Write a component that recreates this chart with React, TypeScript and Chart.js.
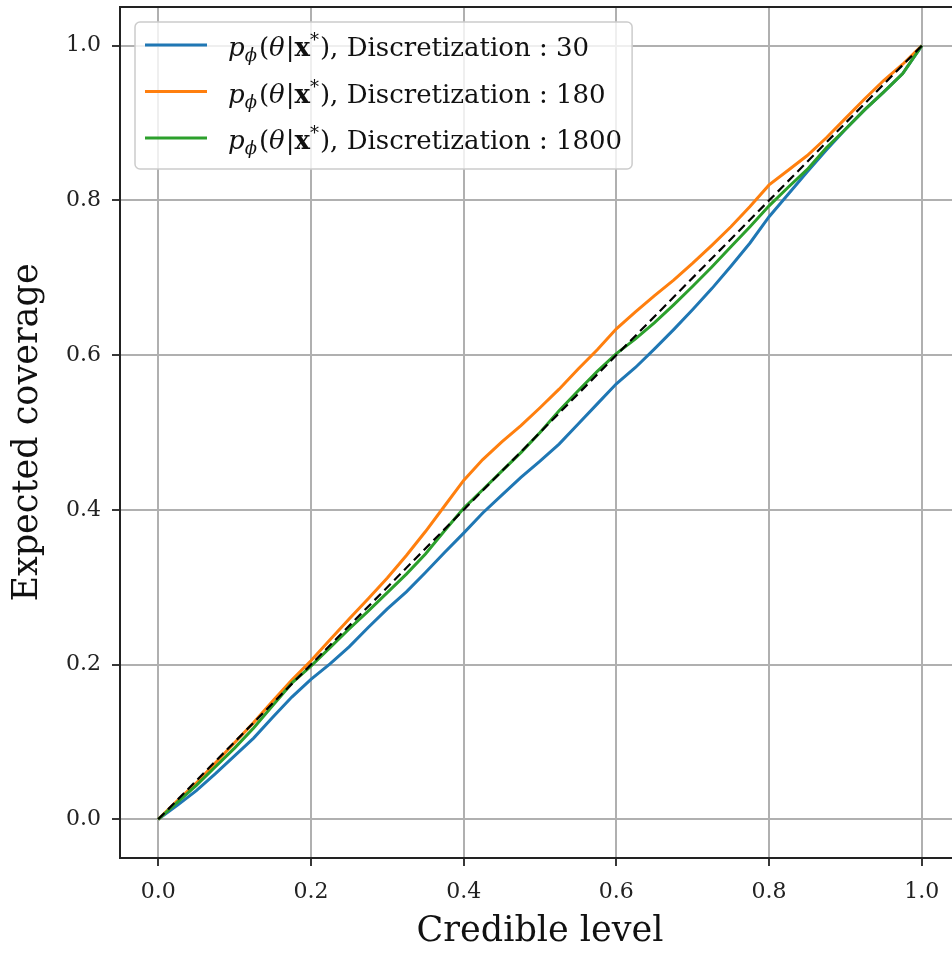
import React, { useEffect, useRef } from "react";
import { Chart, registerables } from "chart.js";

Chart.register(...registerables);

// ---- data ----
const credibleLevels = [
  0, 0.025, 0.05, 0.075, 0.1, 0.125, 0.15, 0.175, 0.2, 0.225, 0.25, 0.275, 0.3, 0.325,
  0.35, 0.375, 0.4, 0.425, 0.45, 0.475, 0.5, 0.525, 0.55, 0.575, 0.6, 0.625, 0.65,
  0.675, 0.7, 0.725, 0.75, 0.775, 0.8, 0.825, 0.85, 0.875, 0.9, 0.925, 0.95, 0.975, 1,
];

const coverage30 = [
  0, 0.018, 0.037, 0.059, 0.082, 0.105, 0.132, 0.158, 0.181, 0.201, 0.223, 0.248, 0.272,
  0.294, 0.319, 0.345, 0.37, 0.396, 0.419, 0.442, 0.463, 0.485, 0.511, 0.537, 0.563,
  0.584, 0.608, 0.633, 0.659, 0.686, 0.715, 0.745, 0.779, 0.808, 0.837, 0.865, 0.892,
  0.917, 0.94, 0.964, 1.0,
];

const coverage180 = [
  0, 0.024, 0.047, 0.073, 0.099, 0.125, 0.153, 0.18, 0.205, 0.232, 0.259, 0.285, 0.312,
  0.341, 0.372, 0.405, 0.438, 0.465, 0.488, 0.509, 0.532, 0.556, 0.582, 0.607, 0.634,
  0.656, 0.677, 0.697, 0.719, 0.742, 0.766, 0.792, 0.82, 0.839, 0.858, 0.881, 0.906,
  0.931, 0.955, 0.976, 1.0,
];

const coverage1800 = [
  0, 0.022, 0.044, 0.068, 0.092, 0.118, 0.147, 0.176, 0.198, 0.222, 0.246, 0.269, 0.293,
  0.317, 0.343, 0.373, 0.402, 0.426, 0.45, 0.474, 0.5, 0.528, 0.554, 0.579, 0.602, 0.621,
  0.642, 0.665, 0.689, 0.714, 0.74, 0.766, 0.793, 0.817, 0.84, 0.868, 0.892, 0.917, 0.94,
  0.964, 1.0,
];

const diagonalX = [0, 1];
const diagonalY = [0, 1];

const discretizations = ["30", "180", "1800"];
const seriesColors = ["#1f77b4", "#ff7f0e", "#2ca02c"];
const tickValues = [0, 0.2, 0.4, 0.6, 0.8, 1.0];

const xTitle = "Credible level";
const yTitle = "Expected coverage";

const SERIF = "'DejaVu Serif', 'Liberation Serif', serif";

// ---- plugins ----
const framePlugin = {
  id: "frame",
  beforeDatasetsDraw(chart: any) {
    const { ctx, chartArea } = chart;
    ctx.save();
    ctx.strokeStyle = "#222";
    ctx.lineWidth = 2;
    ctx.strokeRect(chartArea.left, chartArea.top, chartArea.right - chartArea.left, chartArea.bottom - chartArea.top);
    ctx.restore();
  },
};

const mathLegendPlugin = {
  id: "mathLegend",
  afterDraw(chart: any) {
    const { ctx, chartArea } = chart;
    const fs = 26;
    const small = 18;
    const bx = chartArea.left + 15;
    const by = chartArea.top + 15;
    const rowGap = 46.5;
    const firstRow = by + 23;
    const lineX0 = bx + 10;
    const lineX1 = bx + 72;
    const textX = bx + 93;

    const segsFor = (d: string) => [
      { t: "p", font: `italic ${fs}px ${SERIF}`, dy: 0, gap: 0 },
      { t: "ϕ", font: `italic ${small}px ${SERIF}`, dy: 5, gap: 2 },
      { t: "(", font: `${fs}px ${SERIF}`, dy: 0, gap: 0 },
      { t: "θ", font: `italic ${fs}px ${SERIF}`, dy: 0, gap: 1 },
      { t: "|", font: `${fs}px ${SERIF}`, dy: 0, gap: 0 },
      { t: "x", font: `bold ${fs}px ${SERIF}`, dy: 0, gap: 0 },
      { t: "*", font: `${small}px ${SERIF}`, dy: -10, gap: 1 },
      { t: ")", font: `${fs}px ${SERIF}`, dy: 0, gap: 0 },
      { t: ", Discretization : " + d, font: `${fs}px ${SERIF}`, dy: 0, gap: 0 },
    ];

    ctx.save();
    let maxEnd = 0;
    const rows = discretizations.map((d) => {
      const segs = segsFor(d);
      let x = textX;
      const placed = segs.map((s) => {
        ctx.font = s.font;
        const w = ctx.measureText(s.t).width;
        const p = { ...s, x };
        x += w + s.gap;
        return p;
      });
      maxEnd = Math.max(maxEnd, x);
      return placed;
    });
    const bw = maxEnd + 10 - bx;
    const bh = 2 * rowGap + 54;

    ctx.beginPath();
    (ctx as any).roundRect(bx, by, bw, bh, 5);
    ctx.fillStyle = "rgba(255,255,255,0.8)";
    ctx.fill();
    ctx.strokeStyle = "#cccccc";
    ctx.lineWidth = 1.5;
    ctx.stroke();

    rows.forEach((placed, i) => {
      const cy = firstRow + i * rowGap;
      ctx.beginPath();
      ctx.moveTo(lineX0, cy);
      ctx.lineTo(lineX1, cy);
      ctx.strokeStyle = seriesColors[i];
      ctx.lineWidth = 3;
      ctx.stroke();
      ctx.fillStyle = "#111";
      ctx.textBaseline = "alphabetic";
      ctx.textAlign = "left";
      placed.forEach((s) => {
        ctx.font = s.font;
        ctx.fillText(s.t, s.x, cy + 11 + s.dy);
      });
    });
    ctx.restore();
  },
};

export default function App() {
  const ref = useRef<HTMLCanvasElement | null>(null);

  useEffect(() => {
    if (!ref.current) return;
    const toPts = (ys: number[]) => credibleLevels.map((x, i) => ({ x, y: ys[i] }));
    const chart = new Chart(ref.current, {
      type: "line",
      data: {
        datasets: [
          {
            label: "diagonal",
            data: diagonalX.map((x, i) => ({ x, y: diagonalY[i] })),
            borderColor: "#000",
            borderWidth: 2.2,
            borderDash: [9, 5],
            pointRadius: 0,
            order: 0,
          },
          ...[coverage30, coverage180, coverage1800].map((ys, i) => ({
            label: discretizations[i],
            data: toPts(ys),
            borderColor: seriesColors[i],
            borderWidth: 3,
            pointRadius: 0,
            tension: 0,
            order: 3 - i,
          })),
        ],
      },
      options: {
        animation: false,
        responsive: false,
        maintainAspectRatio: false,
        layout: { padding: { top: 7, right: 40, left: 0, bottom: 0 } },
        plugins: { legend: { display: false }, tooltip: { enabled: false } },
        scales: {
          x: {
            type: "linear",
            min: -0.05,
            max: 1.05,
            afterBuildTicks: (s: any) => {
              s.ticks = tickValues.map((v) => ({ value: v }));
            },
            afterFit: (s: any) => {
              s.height = 95;
              s.paddingLeft = 0;
              s.paddingRight = 0;
            },
            grid: { color: "#b0b0b0", lineWidth: 2, tickColor: "#222", tickLength: 8, tickWidth: 1.8 },
            border: { display: true, color: "#222", width: 2 },
            ticks: {
              color: "#222",
              font: { family: SERIF, size: 22 },
              padding: 13,
              maxRotation: 0,
              autoSkip: false,
              callback: (v: any) => Number(v).toFixed(1),
            },
            title: {
              display: true,
              text: xTitle,
              color: "#111",
              font: { family: SERIF, size: 35 },
              padding: { top: 0, bottom: 0 },
            },
          },
          y: {
            type: "linear",
            min: -0.05,
            max: 1.05,
            afterBuildTicks: (s: any) => {
              s.ticks = tickValues.map((v) => ({ value: v }));
            },
            afterFit: (s: any) => {
              s.width = 120;
              s.paddingTop = 0;
              s.paddingBottom = 0;
            },
            grid: { color: "#b0b0b0", lineWidth: 2, tickColor: "#222", tickLength: 8, tickWidth: 1.8 },
            border: { display: true, color: "#222", width: 2 },
            ticks: {
              color: "#222",
              font: { family: SERIF, size: 22 },
              padding: 11,
              autoSkip: false,
              callback: (v: any) => Number(v).toFixed(1),
            },
            title: {
              display: true,
              text: yTitle,
              color: "#111",
              font: { family: SERIF, size: 35 },
              padding: { top: 7, bottom: 0 },
            },
          },
        },
      },
      plugins: [framePlugin, mathLegendPlugin],
    } as any);
    return () => chart.destroy();
  }, []);

  return (
    <div
      style={{
        position: "fixed",
        left: 0,
        top: 0,
        width: 952,
        height: 953,
        overflow: "hidden",
        background: "#fff",
      }}
    >
      <canvas ref={ref} width={1000} height={953} style={{ width: 1000, height: 953, display: "block" }} />
    </div>
  );
}
